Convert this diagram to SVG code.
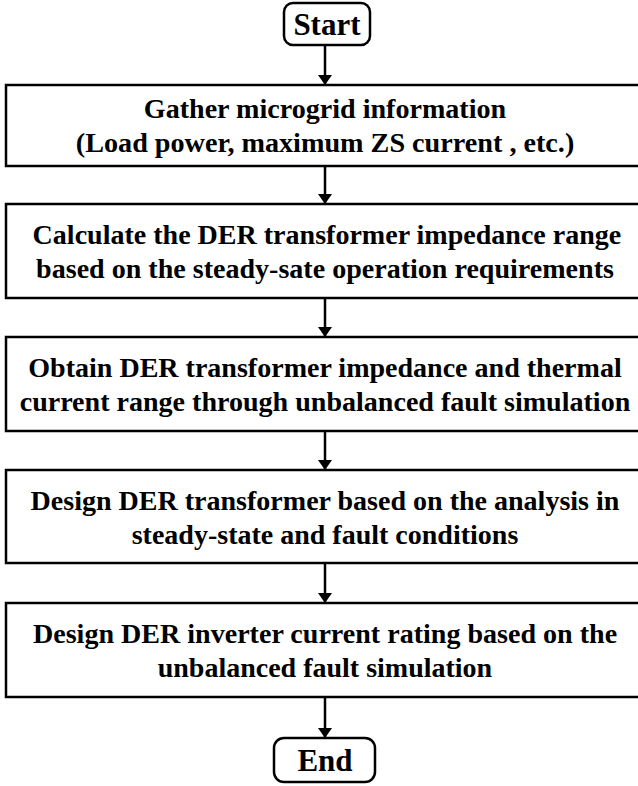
<svg xmlns="http://www.w3.org/2000/svg" width="638" height="786" viewBox="0 0 638 786">
  <defs>
    <marker id="arrow" viewBox="0 0 10 14" refX="10" refY="7" markerWidth="10" markerHeight="14" markerUnits="userSpaceOnUse" orient="auto">
      <path d="M0,0 L10,7 L0,14 Z" fill="#000000"/>
    </marker>
  </defs>
  <rect width="638" height="786" fill="#ffffff"/>

  <!-- arrows between consecutive steps -->
  <g id="connectors" stroke="#000000" stroke-width="2.5" fill="none" marker-end="url(#arrow)">
    <line x1="325" y1="45" x2="325" y2="85"/>
    <line x1="325" y1="166" x2="325" y2="204"/>
    <line x1="325" y1="298" x2="325" y2="337"/>
    <line x1="325" y1="431" x2="325" y2="470"/>
    <line x1="325" y1="563" x2="325" y2="603"/>
    <line x1="325" y1="697" x2="325" y2="738"/>
  </g>

  <!-- steps: white boxes with black outline, bold serif labels (start x = centre - width/2) -->
  <g font-weight="700" fill="#000000">
    <g id="start">
      <rect x="284" y="3" width="86" height="42" rx="9" fill="#ffffff" stroke="#000000" stroke-width="2.5"/>
      <text font-family="'Liberation Serif'" font-size="31" x="293.4" y="35" textLength="67.1" lengthAdjust="spacingAndGlyphs">Start</text>
    </g>

    <g id="gather" font-size="28">
      <rect x="6" y="85" width="640" height="81" fill="#ffffff" stroke="#000000" stroke-width="2.5"/>
      <text font-family="'Liberation Serif'" x="143.8" y="118" textLength="362.4" lengthAdjust="spacingAndGlyphs">Gather microgrid information</text>
      <text font-family="'Liberation Serif'" x="75.8" y="152" textLength="498.5" lengthAdjust="spacingAndGlyphs">(Load power, maximum ZS current , etc.)</text>
    </g>

    <g id="steady-state-range" font-size="28">
      <rect x="6" y="204" width="640" height="94" fill="#ffffff" stroke="#000000" stroke-width="2.5"/>
      <text font-family="'Liberation Serif'" x="32.6" y="244" textLength="588.7" lengthAdjust="spacingAndGlyphs">Calculate the DER transformer impedance range</text>
      <text font-family="'Liberation Serif'" x="36.1" y="278" textLength="577.8" lengthAdjust="spacingAndGlyphs">based on the steady-sate operation requirements</text>
    </g>

    <g id="fault-simulation" font-size="28">
      <rect x="6" y="337" width="640" height="94" fill="#ffffff" stroke="#000000" stroke-width="2.5"/>
      <text font-family="'Liberation Serif'" x="28.3" y="377" textLength="593.4" lengthAdjust="spacingAndGlyphs">Obtain DER transformer impedance and thermal</text>
      <text font-family="'Liberation Serif'" x="19.7" y="411" textLength="610.6" lengthAdjust="spacingAndGlyphs">current range through unbalanced fault simulation</text>
    </g>

    <g id="transformer-design" font-size="28">
      <rect x="6" y="470" width="640" height="93" fill="#ffffff" stroke="#000000" stroke-width="2.5"/>
      <text font-family="'Liberation Serif'" x="30.6" y="510" textLength="588.8" lengthAdjust="spacingAndGlyphs">Design DER transformer based on the analysis in</text>
      <text font-family="'Liberation Serif'" x="131.7" y="544" textLength="386.6" lengthAdjust="spacingAndGlyphs">steady-state and fault conditions</text>
    </g>

    <g id="inverter-rating" font-size="28">
      <rect x="6" y="603" width="640" height="94" fill="#ffffff" stroke="#000000" stroke-width="2.5"/>
      <text font-family="'Liberation Serif'" x="33.0" y="643" textLength="584.1" lengthAdjust="spacingAndGlyphs">Design DER inverter current rating based on the</text>
      <text font-family="'Liberation Serif'" x="157.7" y="677" textLength="334.5" lengthAdjust="spacingAndGlyphs">unbalanced fault simulation</text>
    </g>

    <g id="end">
      <rect x="274" y="738" width="101" height="44" rx="10" fill="#ffffff" stroke="#000000" stroke-width="2.5"/>
      <text font-family="'Liberation Serif'" font-size="31" x="297.4" y="771" textLength="55.1" lengthAdjust="spacingAndGlyphs">End</text>
    </g>
  </g>
</svg>
